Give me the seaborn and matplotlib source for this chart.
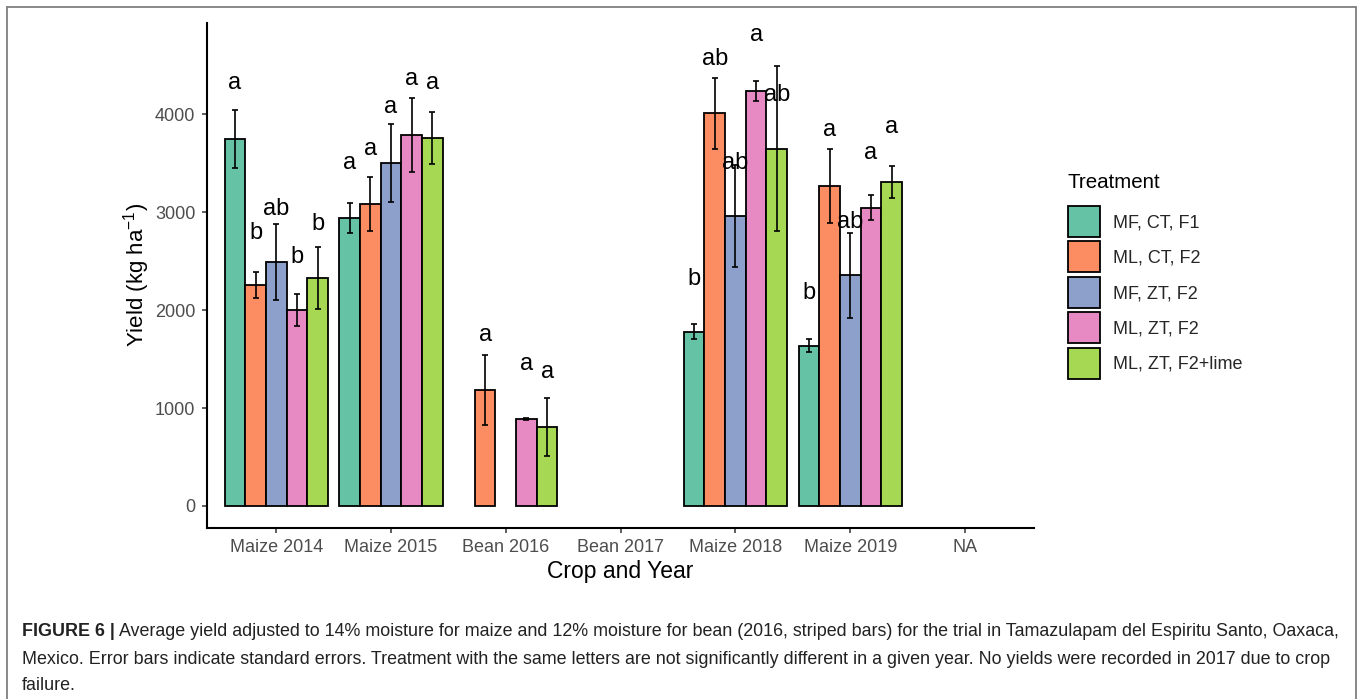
import matplotlib
matplotlib.use("Agg")
import matplotlib.pyplot as plt
from matplotlib.patches import Patch
from matplotlib.lines import Line2D
import pandas as pd
import seaborn as sns

# ---- data -------------------------------------------------------------
crops = ["Maize 2014", "Maize 2015", "Bean 2016", "Bean 2017",
         "Maize 2018", "Maize 2019", "NA"]
crops_measured = ["Maize 2014", "Maize 2015", "Bean 2016", "Maize 2018", "Maize 2019"]
treatments = ["MF, CT, F1", "ML, CT, F2", "MF, ZT, F2", "ML, ZT, F2", "ML, ZT, F2+lime"]

# mean yield (kg/ha) per treatment, in the order of crops_measured
yield_mf_ct_f1 = [3745, 2940, None, 1780, 1635]
yield_ml_ct_f2 = [2255, 3085, 1185, 4010, 3265]
yield_mf_zt_f2 = [2490, 3505, None, 2960, 2355]
yield_ml_zt_f2 = [2000, 3790, 885, 4240, 3045]
yield_ml_zt_f2_lime = [2330, 3760, 805, 3650, 3310]

# standard errors
se_mf_ct_f1 = [298, 152, None, 77, 65]
se_ml_ct_f2 = [136, 275, 360, 361, 376]
se_mf_zt_f2 = [388, 400, None, 519, 434]
se_ml_zt_f2 = [162, 381, 12, 102, 126]
se_ml_zt_f2_lime = [317, 264, 298, 844, 163]

# significance letters and the height at which each is written
letters_mf_ct_f1 = ["a", "a", None, "b", "b"]
letters_ml_ct_f2 = ["b", "a", "a", "ab", "a"]
letters_mf_zt_f2 = ["ab", "a", None, "ab", "ab"]
letters_ml_zt_f2 = ["b", "a", "a", "a", "a"]
letters_ml_zt_f2_lime = ["b", "a", "a", "ab", "a"]

letter_y_mf_ct_f1 = [4254, 3443, None, 2260, 2117]
letter_y_ml_ct_f2 = [2730, 3589, 1683, 4501, 3777]
letter_y_mf_zt_f2 = [2968, 4008, None, 3445, 2839]
letter_y_ml_zt_f2 = [2482, 4294, 1393, 4747, 3545]
letter_y_ml_zt_f2_lime = [2816, 4260, 1308, 4133, 3810]

caption_bold = "FIGURE 6 |"
caption_lines = [
    " Average yield adjusted to 14% moisture for maize and 12% moisture for bean "
    "(2016, striped bars) for the trial in Tamazulapam del Espiritu Santo, Oaxaca,",
    "Mexico. Error bars indicate standard errors. Treatment with the same letters are "
    "not significantly different in a given year. No yields were recorded in 2017 due to crop",
    "failure.",
]

# ---- long table -------------------------------------------------------
means_all = [yield_mf_ct_f1, yield_ml_ct_f2, yield_mf_zt_f2, yield_ml_zt_f2, yield_ml_zt_f2_lime]
ses_all = [se_mf_ct_f1, se_ml_ct_f2, se_mf_zt_f2, se_ml_zt_f2, se_ml_zt_f2_lime]
lets_all = [letters_mf_ct_f1, letters_ml_ct_f2, letters_mf_zt_f2, letters_ml_zt_f2, letters_ml_zt_f2_lime]
lys_all = [letter_y_mf_ct_f1, letter_y_ml_ct_f2, letter_y_mf_zt_f2, letter_y_ml_zt_f2,
           letter_y_ml_zt_f2_lime]

rows = []
for t, ms, ss, ls, lys in zip(treatments, means_all, ses_all, lets_all, lys_all):
    for crop, m, s, l, ly in zip(crops_measured, ms, ss, ls, lys):
        if m is None:
            continue
        rows.append({"crop": crop, "treatment": t, "yield": m, "se": s,
                     "letter": l, "letter_y": ly})
df = pd.DataFrame(rows)

# ---- style ------------------------------------------------------------
sns.set_style("ticks")
plt.rcParams["font.family"] = ["Liberation Sans", "DejaVu Sans"]
plt.rcParams["mathtext.fontset"] = "custom"
plt.rcParams["mathtext.rm"] = "Liberation Sans"
plt.rcParams["mathtext.it"] = "Liberation Sans:italic"
plt.rcParams["mathtext.bf"] = "Liberation Sans:bold"

palette = dict(zip(treatments, sns.color_palette("Set2", len(treatments))))

fig = plt.figure(figsize=(13.6, 6.99), dpi=100)
ax = fig.add_axes([207.3 / 1360, 1 - 528 / 699, (1034 - 207.3) / 1360, (528 - 22.7) / 699])

sns.barplot(data=df, x="crop", y="yield", hue="treatment", order=crops,
            hue_order=treatments, palette=palette, width=0.9, saturation=1,
            edgecolor="black", linewidth=1.3, errorbar=None, legend=False, ax=ax)

# locate each drawn bar by its category slot and dodge slot
n_hue = len(treatments)
slot = 0.9 / n_hue
bar_lookup = {}
for p in ax.patches:
    cx = p.get_x() + p.get_width() / 2
    ci = int(round(cx))
    hj = int(round((cx - ci) / slot + (n_hue - 1) / 2))
    bar_lookup[(ci, hj)] = (cx, p.get_height())

for _, r in df.iterrows():
    key = (crops.index(r["crop"]), treatments.index(r["treatment"]))
    cx, h = bar_lookup[key]
    ax.errorbar(cx, h, yerr=r["se"], fmt="none", ecolor="black",
                elinewidth=1.2, capsize=2.0, capthick=1.2, zorder=5)
    ax.text(cx, r["letter_y"], r["letter"], ha="center", va="baseline",
            fontsize=17, color="black", zorder=6)

ax.set_xlim(-0.6, 6.6)
ax.set_ylim(-225, 4935)
ax.set_yticks([0, 1000, 2000, 3000, 4000])
sns.despine(ax=ax)
for side in ("left", "bottom"):
    ax.spines[side].set_linewidth(1.5)
    ax.spines[side].set_color("black")
ax.tick_params(axis="both", length=3.6, width=1.1, color="#333333",
               labelsize=13, labelcolor="#4D4D4D")
ax.tick_params(axis="y", pad=5)
ax.tick_params(axis="x", pad=4.5)
ax.set_xlabel("Crop and Year", fontsize=16.5, color="black", labelpad=3)
ax.set_ylabel("Yield (kg ha$^{-1}$)", fontsize=16, color="black", labelpad=2)

# legend: title as its own text, keys below it
fig.text(1068 / 1360, 1 - 183 / 699, "Treatment", fontsize=14.8, color="black",
         ha="left", va="center")
handles = [Patch(facecolor=palette[t], edgecolor="black", linewidth=1.3) for t in treatments]
fig.legend(handles, treatments, loc="upper left",
           bbox_to_anchor=(1068.3 / 1360, 1 - 206 / 699), frameon=False,
           fontsize=13, handlelength=1.77, handleheight=2.26,
           labelspacing=0.25, handletextpad=0.7, borderpad=0, borderaxespad=0)

# ---- caption ----------------------------------------------------------
cap_color = "#222222"
cap_size = 12.85
line_y = [631, 660, 686]
renderer = fig.canvas.get_renderer()
tb = fig.text(22 / 1360, 1 - line_y[0] / 699, caption_bold, fontsize=cap_size,
              fontweight="bold", color=cap_color, va="center", ha="left")
bb = tb.get_window_extent(renderer=renderer)
fig.text(bb.x1 / 1360, 1 - line_y[0] / 699, caption_lines[0], fontsize=cap_size,
         color=cap_color, va="center", ha="left")
for txt, yy in zip(caption_lines[1:], line_y[1:]):
    fig.text(22 / 1360, 1 - yy / 699, txt, fontsize=cap_size, color=cap_color,
             va="center", ha="left")

# ---- frame around the figure -----------------------------------------
x0, x1, y0 = 7.3 / 1360, 1355.7 / 1360, 1 - 6.7 / 699
frame_kw = dict(color="#7f7f7f", linewidth=1.3, transform=fig.transFigure)
fig.add_artist(Line2D([x0, x0], [0, y0], **frame_kw))
fig.add_artist(Line2D([x0, x1], [y0, y0], **frame_kw))
fig.add_artist(Line2D([x1, x1], [y0, 0], **frame_kw))

fig.savefig("out.png", dpi=100)
